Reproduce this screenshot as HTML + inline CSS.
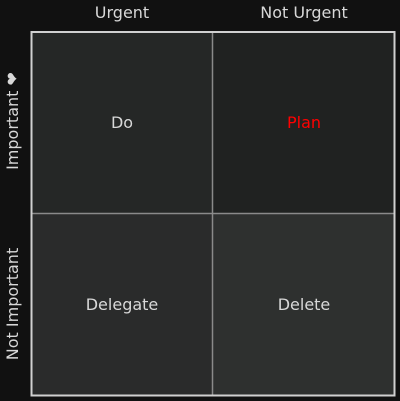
<!DOCTYPE html>
<html><head><meta charset="utf-8"><style>
html,body{margin:0;padding:0;background:#111111;}
svg{display:block;}
text{font-family:"DejaVu Sans","Liberation Sans",sans-serif;font-size:16px;fill:#d8d8d8;}
</style></head><body>
<svg width="400" height="401" viewBox="0 0 400 401" xmlns="http://www.w3.org/2000/svg">
<rect x="0" y="0" width="400" height="401" fill="#111111"/>
<rect x="32" y="32" width="181" height="181" fill="#252726"/>
<rect x="213" y="32" width="181" height="181" fill="#202221"/>
<rect x="32" y="213" width="181" height="182" fill="#2a2b2b"/>
<rect x="213" y="213" width="181" height="182" fill="#2e302f"/>
<line x1="212.5" y1="32" x2="212.5" y2="395" stroke="#8a8a8a" stroke-width="1.5"/>
<line x1="32" y1="213.5" x2="395" y2="213.5" stroke="#8a8a8a" stroke-width="1.5"/>
<rect x="31.5" y="32" width="363" height="363.5" fill="none" stroke="#d0d0d0" stroke-width="2"/>
<text x="122" y="18" text-anchor="middle">Urgent</text>
<text x="304" y="18" text-anchor="middle">Not Urgent</text>
<text x="122" y="128" text-anchor="middle">Do</text>
<text x="304" y="128" text-anchor="middle" style="fill:#ff0000">Plan</text>
<text x="122" y="310" text-anchor="middle">Delegate</text>
<text x="304" y="310" text-anchor="middle">Delete</text>
<text transform="translate(18,121) rotate(-90)" text-anchor="middle">Important ❤</text>
<text transform="translate(18,304) rotate(-90)" text-anchor="middle">Not Important</text>
</svg>
</body></html>
